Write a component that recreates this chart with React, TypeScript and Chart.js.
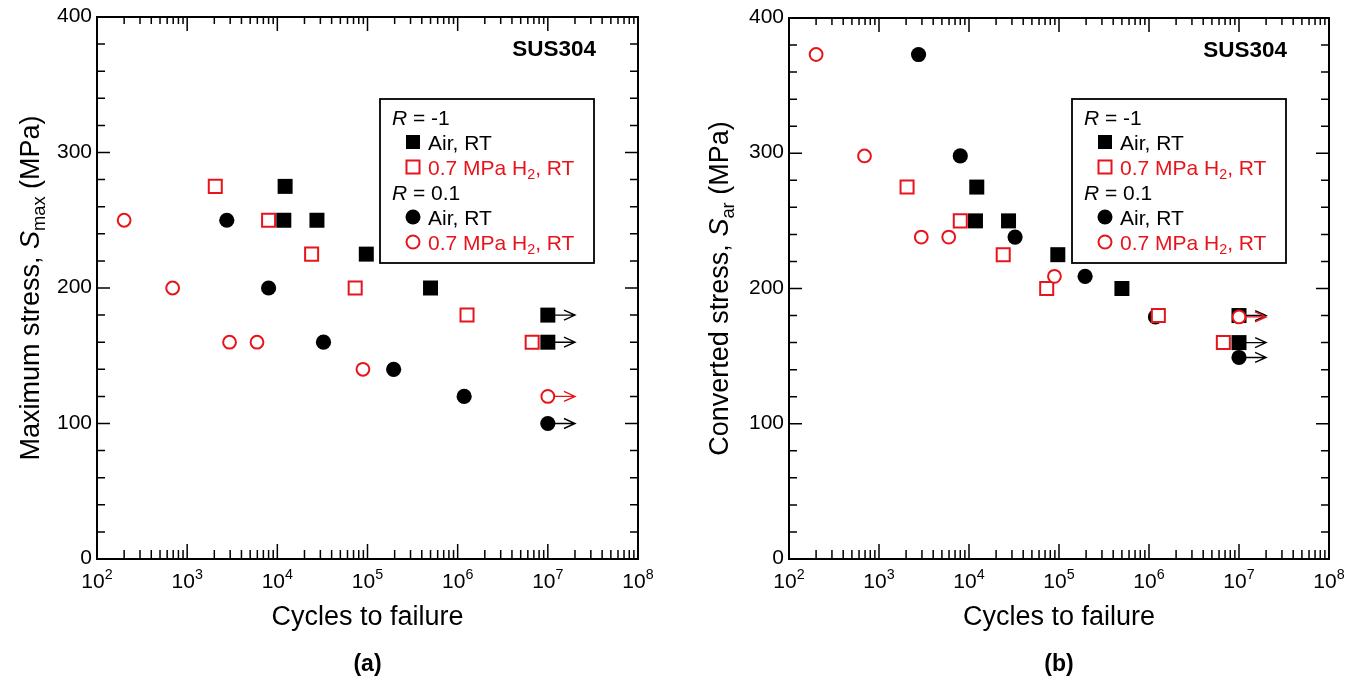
import React, { useEffect, useRef } from 'react';
import { Chart, registerables } from 'chart.js';

Chart.register(...registerables);

const RED = '#e8141b';
const BLACK = '#000000';
const FONT = '"Liberation Sans", Arial, Helvetica, sans-serif';

// ---- Data ----
// R = -1, Air, RT  (Smax = Sar)
const airRm1Cycles = [1.22e4, 1.18e4, 2.75e4, 9.7e4, 5.0e5, 1e7, 1e7];
const airRm1Stress = [275, 250, 250, 225, 200, 180, 160];
// R = -1, 0.7 MPa H2, RT
const h2Rm1Cycles = [2.05e3, 8.0e3, 2.4e4, 7.3e4, 1.27e6, 6.7e6];
const h2Rm1Stress = [275, 250, 225, 200, 180, 160];
// R = 0.1, Air, RT
const airR01Cycles = [2.75e3, 8.0e3, 3.25e4, 1.95e5, 1.18e6, 1e7];
const airR01Smax = [250, 200, 160, 140, 120, 100];
const airR01Sar = [373, 298, 238, 209, 179, 149];
// R = 0.1, 0.7 MPa H2, RT
const h2R01Cycles = [200, 690, 2.95e3, 5.95e3, 8.9e4, 1e7];
const h2R01Smax = [250, 200, 160, 160, 140, 120];
const h2R01Sar = [373, 298, 238, 238, 209, 179];

// run-outs (not failed at this cycle count) get an arrow to arrowEnd
const runoutLimit = 1e7;
const runoutArrowEnd = 2e7;

// axes
const xExponents = [2, 3, 4, 5, 6, 7, 8];
const yTickValues = [0, 100, 200, 300, 400];
const yMinorStep = 20;

type Part = { t: string; italic?: boolean; bold?: boolean; sub?: boolean; sup?: boolean };

interface Spec {
  tag: string;
  offset: number;
  area: { left: number; right: number; top: number; bottom: number };
  yTitle: Part[];
  yTitleX: number;
  airRm1: number[];
  h2Rm1: number[];
  airR01: number[];
  h2R01: number[];
}

const W = 682;
const H = 681;

const specs: Spec[] = [
  {
    tag: '(a)',
    offset: 0,
    area: { left: 97, right: 638, top: 17, bottom: 559 },
    yTitle: [
      { t: 'Maximum stress, ' },
      { t: 'S', italic: true },
      { t: 'max', sub: true },
      { t: ' (MPa)' },
    ],
    yTitleX: 29,
    airRm1: airRm1Stress,
    h2Rm1: h2Rm1Stress,
    airR01: airR01Smax,
    h2R01: h2R01Smax,
  },
  {
    tag: '(b)',
    offset: 682,
    area: { left: 107, right: 647, top: 18, bottom: 559 },
    yTitle: [
      { t: 'Converted stress, ' },
      { t: 'S', italic: true },
      { t: 'ar', sub: true },
      { t: ' (MPa)' },
    ],
    yTitleX: 36,
    airRm1: airRm1Stress,
    h2Rm1: h2Rm1Stress,
    airR01: airR01Sar,
    h2R01: h2R01Sar,
  },
];

const pts = (xs: number[], ys: number[]) => xs.map((x, i) => ({ x, y: ys[i] }));

function setFont(ctx: CanvasRenderingContext2D, p: Part, size: number) {
  const s = p.sub || p.sup ? size * 0.68 : size;
  ctx.font = `${p.italic ? 'italic ' : ''}${p.bold ? 'bold ' : ''}${s}px ${FONT}`;
}

function drawRich(
  ctx: CanvasRenderingContext2D,
  parts: Part[],
  x: number,
  y: number,
  size: number,
  align: 'left' | 'center' | 'right',
  color: string
) {
  ctx.save();
  ctx.textAlign = 'left';
  ctx.textBaseline = 'alphabetic';
  ctx.fillStyle = color;
  const widths = parts.map((p) => {
    setFont(ctx, p, size);
    return ctx.measureText(p.t).width;
  });
  const total = widths.reduce((a, b) => a + b, 0);
  let cx = align === 'left' ? x : align === 'center' ? x - total / 2 : x - total;
  parts.forEach((p, i) => {
    setFont(ctx, p, size);
    const dy = p.sub ? size * 0.22 : p.sup ? -size * 0.42 : 0;
    ctx.fillText(p.t, cx, y + dy);
    cx += widths[i];
  });
  ctx.restore();
}

type MarkerKind = 'sqFilled' | 'sqOpen' | 'ciFilled' | 'ciOpen';

function drawMarker(ctx: CanvasRenderingContext2D, kind: MarkerKind, x: number, y: number) {
  ctx.save();
  if (kind === 'sqFilled') {
    ctx.fillStyle = BLACK;
    ctx.fillRect(x - 7, y - 7, 14, 14);
  } else if (kind === 'sqOpen') {
    ctx.strokeStyle = RED;
    ctx.lineWidth = 2;
    ctx.strokeRect(x - 6.5, y - 6.5, 13, 13);
  } else if (kind === 'ciFilled') {
    ctx.fillStyle = BLACK;
    ctx.beginPath();
    ctx.arc(x, y, 7.5, 0, Math.PI * 2);
    ctx.fill();
  } else {
    ctx.strokeStyle = RED;
    ctx.lineWidth = 2;
    ctx.beginPath();
    ctx.arc(x, y, 6.5, 0, Math.PI * 2);
    ctx.stroke();
  }
  ctx.restore();
}

function makeDecor(spec: Spec) {
  return {
    id: 'decor',
    afterDraw(chart: any) {
      const ctx: CanvasRenderingContext2D = chart.ctx;
      const xs = chart.scales.x;
      const ys = chart.scales.y;
      const { left, right, top, bottom } = chart.chartArea;
      ctx.save();

      // frame
      ctx.strokeStyle = BLACK;
      ctx.lineWidth = 2;
      ctx.strokeRect(left, top, right - left, bottom - top);

      // x ticks (inward, bottom and top)
      ctx.lineWidth = 1.5;
      ctx.beginPath();
      xExponents.forEach((e, idx) => {
        const last = idx === xExponents.length - 1;
        for (let m = 1; m <= (last ? 1 : 9); m++) {
          const px = xs.getPixelForValue(m * Math.pow(10, e));
          const len = m === 1 ? 15 : 9;
          const tlen = m === 1 ? 14 : 7;
          ctx.moveTo(px, bottom);
          ctx.lineTo(px, bottom - len);
          ctx.moveTo(px, top);
          ctx.lineTo(px, top + tlen);
        }
      });
      // y ticks (inward, left and right)
      for (let v = yTickValues[0]; v <= yTickValues[yTickValues.length - 1]; v += yMinorStep) {
        const py = ys.getPixelForValue(v);
        const len = yTickValues.includes(v) ? 13 : 8;
        ctx.moveTo(left, py);
        ctx.lineTo(left + len, py);
        ctx.moveTo(right, py);
        ctx.lineTo(right - len, py);
      }
      ctx.stroke();

      // tick labels
      const tickSize = 21;
      ctx.fillStyle = BLACK;
      ctx.font = `${tickSize}px ${FONT}`;
      ctx.textAlign = 'right';
      ctx.textBaseline = 'alphabetic';
      yTickValues.forEach((v) => {
        const py = ys.getPixelForValue(v);
        ctx.fillText(String(v), left - 5, py + 5);
      });
      xExponents.forEach((e) => {
        const px = xs.getPixelForValue(Math.pow(10, e));
        drawRich(ctx, [{ t: '10' }, { t: String(e), sup: true }], px, bottom + 29, tickSize, 'center', BLACK);
      });

      // axis titles
      const cxArea = (left + right) / 2;
      drawRich(ctx, [{ t: 'Cycles to failure' }], cxArea, 625, 27, 'center', BLACK);
      ctx.save();
      ctx.translate(spec.yTitleX, (top + bottom) / 2);
      ctx.rotate(-Math.PI / 2);
      drawRich(ctx, spec.yTitle, 0, 10, 27, 'center', BLACK);
      ctx.restore();

      // panel tag
      drawRich(ctx, [{ t: spec.tag, bold: true }], cxArea, 671, 23, 'center', BLACK);

      // material label
      drawRich(ctx, [{ t: 'SUS304', bold: true }], right - 42, top + 39, 22.5, 'right', BLACK);

      // run-out arrows
      const series: { c: number[]; s: number[]; color: string }[] = [
        { c: airRm1Cycles, s: spec.airRm1, color: BLACK },
        { c: h2Rm1Cycles, s: spec.h2Rm1, color: BLACK },
        { c: airR01Cycles, s: spec.airR01, color: BLACK },
        { c: h2R01Cycles, s: spec.h2R01, color: RED },
      ];
      ctx.lineWidth = 1.4;
      series.forEach((sr) => {
        sr.c.forEach((n, i) => {
          if (n < runoutLimit) return;
          const x0 = xs.getPixelForValue(n) + 7;
          const x1 = xs.getPixelForValue(runoutArrowEnd);
          const y = ys.getPixelForValue(sr.s[i]);
          ctx.strokeStyle = sr.color;
          ctx.beginPath();
          ctx.moveTo(x0, y);
          ctx.lineTo(x1, y);
          ctx.moveTo(x1 - 11, y - 5);
          ctx.lineTo(x1, y);
          ctx.lineTo(x1 - 11, y + 5);
          ctx.stroke();
        });
      });

      // legend box
      const bx = left + 283;
      const by = 99;
      const bw = 214;
      const bh = 164;
      ctx.lineWidth = 1.8;
      ctx.strokeStyle = BLACK;
      ctx.strokeRect(bx, by, bw, bh);
      const lsize = 21;
      const rowY = [18, 43, 68, 93, 118, 143].map((d) => by + d + 7.5);
      drawRich(ctx, [{ t: 'R', italic: true }, { t: ' = -1' }], bx + 12, rowY[0], lsize, 'left', BLACK);
      drawMarker(ctx, 'sqFilled', bx + 33, rowY[1] - 7.5);
      drawRich(ctx, [{ t: 'Air, RT' }], bx + 48, rowY[1], lsize, 'left', BLACK);
      drawMarker(ctx, 'sqOpen', bx + 33, rowY[2] - 7.5);
      drawRich(ctx, [{ t: '0.7 MPa H' }, { t: '2', sub: true }, { t: ', RT' }], bx + 48, rowY[2], lsize, 'left', RED);
      drawRich(ctx, [{ t: 'R', italic: true }, { t: ' = 0.1' }], bx + 12, rowY[3], lsize, 'left', BLACK);
      drawMarker(ctx, 'ciFilled', bx + 33, rowY[4] - 7.5);
      drawRich(ctx, [{ t: 'Air, RT' }], bx + 48, rowY[4], lsize, 'left', BLACK);
      drawMarker(ctx, 'ciOpen', bx + 33, rowY[5] - 7.5);
      drawRich(ctx, [{ t: '0.7 MPa H' }, { t: '2', sub: true }, { t: ', RT' }], bx + 48, rowY[5], lsize, 'left', RED);

      ctx.restore();
    },
  };
}

function Panel({ spec }: { spec: Spec }) {
  const ref = useRef<HTMLCanvasElement>(null);
  useEffect(() => {
    const canvas = ref.current;
    if (!canvas) return;
    const a = spec.area;
    const chart = new Chart(canvas, {
      type: 'scatter',
      data: {
        datasets: [
          {
            label: 'R = 0.1, 0.7 MPa H2, RT',
            data: pts(h2R01Cycles, spec.h2R01),
            pointStyle: 'circle',
            pointRadius: 6.4,
            pointHoverRadius: 6.4,
            pointBackgroundColor: '#ffffff',
            pointBorderColor: RED,
            pointBorderWidth: 2,
            order: 0,
          },
          {
            label: 'R = -1, Air, RT',
            data: pts(airRm1Cycles, spec.airRm1),
            pointStyle: 'rect',
            pointRadius: 10.6,
            pointHoverRadius: 10.6,
            pointBackgroundColor: BLACK,
            pointBorderColor: BLACK,
            pointBorderWidth: 0,
            order: 1,
          },
          {
            label: 'R = -1, 0.7 MPa H2, RT',
            data: pts(h2Rm1Cycles, spec.h2Rm1),
            pointStyle: 'rect',
            pointRadius: 9.2,
            pointHoverRadius: 9.2,
            pointBackgroundColor: '#ffffff',
            pointBorderColor: RED,
            pointBorderWidth: 2,
            order: 2,
          },
          {
            label: 'R = 0.1, Air, RT',
            data: pts(airR01Cycles, spec.airR01),
            pointStyle: 'circle',
            pointRadius: 7.6,
            pointHoverRadius: 7.6,
            pointBackgroundColor: BLACK,
            pointBorderColor: BLACK,
            pointBorderWidth: 0,
            order: 3,
          },
        ] as any,
      },
      options: {
        responsive: false,
        animation: false,
        events: [],
        layout: { padding: { left: 0, right: W - a.right, top: a.top, bottom: 0 } },
        plugins: { legend: { display: false }, tooltip: { enabled: false } },
        scales: {
          x: {
            type: 'logarithmic',
            min: 100,
            max: 1e8,
            ticks: { display: false },
            grid: { display: false },
            border: { display: false },
            afterFit: (s: any) => {
              s.height = H - a.bottom;
            },
          },
          y: {
            type: 'linear',
            min: 0,
            max: 400,
            ticks: { display: false },
            grid: { display: false },
            border: { display: false },
            afterFit: (s: any) => {
              s.width = a.left;
            },
          },
        },
      } as any,
      plugins: [makeDecor(spec)],
    });
    return () => chart.destroy();
  }, [spec]);
  return (
    <canvas
      ref={ref}
      width={W}
      height={H}
      style={{ position: 'absolute', left: spec.offset, top: 0, width: W, height: H }}
    />
  );
}

export default function App() {
  return (
    <div style={{ position: 'absolute', left: 0, top: 0, width: 1364, height: 681, background: '#ffffff' }}>
      {specs.map((s) => (
        <Panel key={s.tag} spec={s} />
      ))}
    </div>
  );
}
